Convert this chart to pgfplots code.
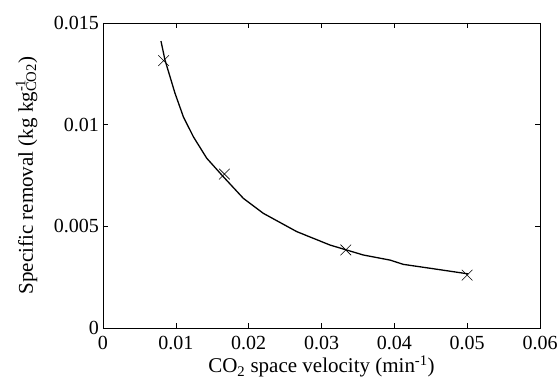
\documentclass[border=0pt]{standalone}
\usepackage{fontspec}
\setmainfont{Liberation Serif}
\usepackage{pgfplots}
\pgfplotsset{compat=1.18}
\begin{document}
\begin{tikzpicture}
\path[use as bounding box] (-103bp,-57bp) rectangle (457bp,328bp);
\begin{axis}[
  scale only axis,
  width=437bp, height=305bp,
  xmin=0, xmax=0.06, ymin=0, ymax=0.015,
  scaled ticks=false,
  xtick={0,0.01,0.02,0.03,0.04,0.05,0.06},
  xticklabels={0,0.01,0.02,0.03,0.04,0.05,0.06},
  ytick={0,0.005,0.01,0.015},
  yticklabels={0,0.005,0.01,0.015},
  tick align=inside,
  major tick length=5bp,
  axis line style={line width=0.8bp},
  every tick/.style={black, line width=0.6bp},
  tick label style={font=\fontsize{20bp}{22bp}\selectfont},
  xticklabel style={anchor=north, inner sep=0pt, yshift=-8bp},
  yticklabel style={anchor=east, inner sep=0pt, xshift=-4bp},
  label style={font=\fontsize{21bp}{24bp}\selectfont},
  xlabel={CO\textsubscript{2} space velocity (min\textsuperscript{-1})},
  xlabel style={at={(axis description cs:0.5,-0.1475)}, anchor=base, inner sep=0pt},
  ylabel={Specific removal (kg kg\makebox[0pt][l]{\textsuperscript{-1}}\textsubscript{CO2})},
  ylabel style={at={(axis description cs:-0.1602,0.5)}, anchor=base, inner sep=0pt},
]
\addplot[black, line width=1.3bp] coordinates {
(0.00796,0.01411) (0.00851,0.01318) (0.00920,0.01236) (0.00989,0.01154)
(0.01103,0.01039) (0.01240,0.00941) (0.01424,0.00835) (0.01652,0.00744)
(0.01926,0.00638) (0.02201,0.00564) (0.02660,0.00474) (0.03117,0.00408)
(0.03574,0.00359) (0.03941,0.00334) (0.04123,0.00313) (0.04582,0.00289)
(0.05016,0.00266)
};
\addplot[black, only marks, mark=x, mark size=7.5bp, mark options={line width=0.6bp}] coordinates {
(0.00833,0.01315) (0.01667,0.00757) (0.03333,0.00384) (0.05,0.0026)
};
\end{axis}
\end{tikzpicture}
\end{document}
